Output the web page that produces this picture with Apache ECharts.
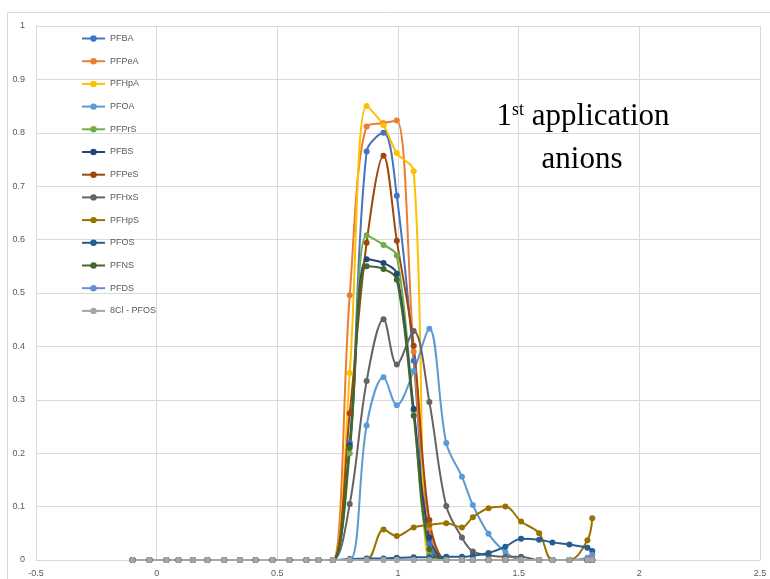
<!DOCTYPE html>
<html>
<head>
<meta charset="utf-8">
<script src="https://cdn.jsdelivr.net/npm/echarts@6/dist/echarts.min.js"></script>
<style>
html,body{margin:0;padding:0;background:#fff;}
#c{width:770px;height:579px;}
</style>
</head>
<body>
<div id="c"></div>
<script>
// Shared x positions of the sampling points
var xVals = [-0.10, -0.03, 0.04, 0.09, 0.15, 0.21, 0.28, 0.345, 0.41, 0.48, 0.55, 0.62, 0.67, 0.73,
             0.80, 0.87, 0.94, 0.995, 1.065, 1.13, 1.20, 1.265, 1.31, 1.375, 1.445, 1.51, 1.585, 1.64, 1.71, 1.785, 1.805];

var seriesNames = ['PFBA','PFPeA','PFHpA','PFOA','PFPrS','PFBS','PFPeS','PFHxS','PFHpS','PFOS','PFNS','PFDS','8Cl - PFOS'];

var PFBA  = [0,0,0,0,0,0,0,0,0,0,0,0,0,0, 0.22,0.765,0.800,0.682,0.373,0.03,0,0,0,0,0,0,0,0,0,0,0];
var PFPeA = [0,0,0,0,0,0,0,0,0,0,0,0,0,0, 0.496,0.812,0.818,0.823,0.39,0.06,0,0,0,0,0,0,0,0,0,0,0];
var PFHpA = [0,0,0,0,0,0,0,0,0,0,0,0,0,0, 0.350,0.850,0.814,0.762,0.728,0,0,0,0,0,0,0,0,0,0,0,0];
var PFOA  = [0,0,0,0,0,0,0,0,0,0,0,0,0,0, 0,0.252,0.342,0.290,0.354,0.433,0.219,0.156,0.103,0.049,0.015,0,0,0,0,0,0];
var PFPrS = [0,0,0,0,0,0,0,0,0,0,0,0,0,0, 0.20,0.608,0.590,0.570,0.28,0.01,0,0,0,0,0,0,0,0,0,0,0];
var PFBS  = [0,0,0,0,0,0,0,0,0,0,0,0,0,0, 0.215,0.563,0.556,0.536,0.283,0.042,0,0,0,0,0,0,0,0,0,0,0];
var PFPeS = [0,0,0,0,0,0,0,0,0,0,0,0,0,0, 0.275,0.594,0.757,0.598,0.401,0.075,0,0,0,0,0,0,0,0,0,0,0];
var PFHxS = [0,0,0,0,0,0,0,0,0,0,0,0,0,0, 0.105,0.335,0.451,0.366,0.429,0.296,0.101,0.042,0.016,0.009,0.006,0.006,0,0,0,0,0];
var PFHpS = [0,0,0,0,0,0,0,0,0,0,0,0,0,0, 0,0,0.057,0.045,0.061,0.066,0.069,0.061,0.080,0.097,0.100,0.072,0.050,0,0,0.037,0.078];
var PFOS  = [0,0,0,0,0,0,0,0,0,0,0,0,0,0, 0.002,0.003,0.003,0.004,0.005,0.005,0.006,0.006,0.008,0.013,0.025,0.040,0.038,0.033,0.029,0.023,0.017];
var PFNS  = [0,0,0,0,0,0,0,0,0,0,0,0,0,0, 0.21,0.55,0.545,0.525,0.27,0.02,0,0,0,0,0,0,0,0,0,0,0];
var PFDS  = [0,0,0,0,0,0,0,0,0,0,0,0,0,0, 0,0,0,0,0,0,0,0,0,0,0,0,0,0,0,0.004,0.010];
var Cl8PFOS = [0,0,0,0,0,0,0,0,0,0,0,0,0,0, 0,0,0,0,0,0,0,0,0,0,0,0,0,0,0,0,0];

var yValues = [PFBA,PFPeA,PFHpA,PFOA,PFPrS,PFBS,PFPeS,PFHxS,PFHpS,PFOS,PFNS,PFDS,Cl8PFOS];
var colors = ['#4472C4','#ED7D31','#FFC000','#5B9BD5','#70AD47','#264478','#9E480E','#636363','#997300','#255E91','#43682B','#698ED0','#A5A5A5'];

var series = seriesNames.map(function(name, i){
  return {
    name: name,
    type: 'line',
    smooth: 0.35,
    symbol: 'circle',
    symbolSize: 6,
    showAllSymbol: true,
    lineStyle: {width: 2, color: colors[i]},
    itemStyle: {color: colors[i]},
    emphasis: {disabled: true},
    data: xVals.map(function(x, j){ return [x, yValues[i][j]]; })
  };
});

var chart = echarts.init(document.getElementById('c'), null, {renderer: 'canvas'});
chart.setOption({
  animation: false,
  color: colors,
  grid: {left: 36, right: 10, top: 26, bottom: 19, containLabel: false},
  xAxis: {
    type: 'value', min: -0.5, max: 2.5, interval: 0.5,
    axisLine: {show: true, lineStyle: {color: '#d9d9d9'}},
    axisTick: {show: false},
    axisLabel: {color: '#595959', fontSize: 9, margin: 9, fontFamily: 'Liberation Sans'},
    splitLine: {show: true, lineStyle: {color: '#d9d9d9'}}
  },
  yAxis: {
    type: 'value', min: 0, max: 1, interval: 0.1,
    axisLine: {show: false},
    axisTick: {show: false},
    axisLabel: {color: '#595959', fontSize: 9, margin: 11, fontFamily: 'Liberation Sans'},
    splitLine: {show: true, lineStyle: {color: '#d9d9d9'}}
  },
  legend: {
    orient: 'vertical',
    left: 76, top: 29,
    itemWidth: 23, itemHeight: 8, itemGap: 13.7,
    textStyle: {color: '#595959', fontSize: 9, fontFamily: 'Liberation Sans'},
    data: seriesNames
  },
  graphic: [
    {type: 'rect', silent: true, shape: {x: 7.5, y: 12.5, width: 780, height: 600},
     style: {fill: 'none', stroke: '#d9d9d9', lineWidth: 1}},
    {type: 'text', silent: true, x: 583, y: 117,
     style: {text: '{a|1}{s|st}{a| application}', align: 'center', verticalAlign: 'middle',
       rich: {
         a: {fontFamily: 'Liberation Serif', fontSize: 31, fill: '#000', color: '#000'},
         s: {fontFamily: 'Liberation Serif', fontSize: 18, fill: '#000', color: '#000', verticalAlign: 'top', padding: [0,0,14,0]}
       }}},
    {type: 'text', silent: true, x: 582, y: 160,
     style: {text: 'anions', align: 'center', verticalAlign: 'middle',
       fontFamily: 'Liberation Serif', fontSize: 31, fill: '#000'}}
  ],
  series: series
});
</script>
</body>
</html>
